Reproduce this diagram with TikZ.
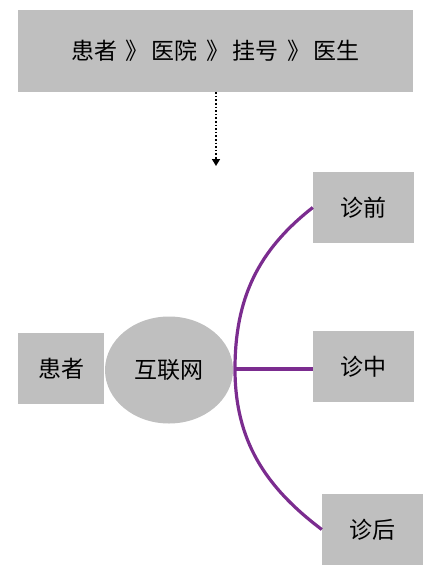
\documentclass[tikz,border=0pt]{standalone}
\usepackage{fontspec}
\setmainfont{Noto Sans CJK SC}
\usetikzlibrary{positioning,arrows.meta,shapes.geometric}
\definecolor{boxgray}{HTML}{BFBFBF}
\definecolor{linkpurple}{HTML}{7B2C8F}
\newcommand{\flowsep}{\hspace{9pt}》\hspace{3pt}}

\begin{document}
\begin{tikzpicture}[x=1pt, y=-1pt]
  % styles
  \tikzset{
    box/.style={rectangle, fill=boxgray, inner sep=0pt, font=\fontsize{23}{27}\selectfont},
    hub/.style={ellipse, fill=boxgray, inner sep=0pt, minimum width=128pt, minimum height=107pt, font=\fontsize{23}{27}\selectfont},
    link/.style={draw=linkpurple, line width=3.2pt}
  }
  \useasboundingbox (0,0) rectangle (433,576);

  % top flow box
  \node[box, minimum width=395pt, minimum height=82pt] (flow) at (215.5,51) {患者\flowsep 医院\flowsep 挂号\flowsep 医生};
  \coordinate (tip) at (216,166);

  % left part
  \node[box, minimum width=86pt, minimum height=71pt] (patient) at (61,368.5) {患者};
  \node[hub] (net) at (169,370) {互联网};

  % right boxes
  \node[box, minimum width=101pt, minimum height=71pt] (before) at (363.5,207.5) {诊前};
  \node[box, minimum width=101pt, minimum height=71pt] (during) at (363.5,366.5) {诊中};
  \node[box, minimum width=101pt, minimum height=71pt] (after) at (372.5,529.5) {诊后};

  % arrow
  \draw[dotted, line width=1.6pt, -{Triangle[length=7pt, width=8pt]}] (flow.south -| tip) -- (tip);

  % purple links
  \coordinate (split) at (235,369);
  \draw[link] (before.west) to[out=218, in=90] (split) to[out=-90, in=143] (after.west);
  \draw[link] (split) -- (during.west |- split);
\end{tikzpicture}
\end{document}
